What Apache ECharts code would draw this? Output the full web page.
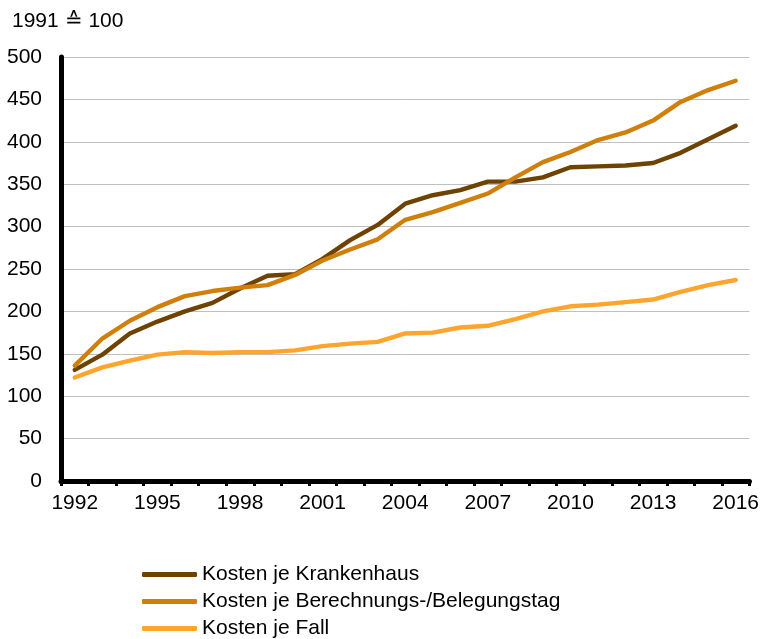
<!DOCTYPE html>
<html>
<head>
<meta charset="utf-8">
<script src="https://cdn.jsdelivr.net/npm/echarts@6/dist/echarts.min.js"></script>
<style>
html,body{margin:0;padding:0;background:#fff;}
#chart{width:762px;height:639px;}
</style>
</head>
<body>
<div id="chart"></div>
<script>
const years = ['1992','1993','1994','1995','1996','1997','1998','1999','2000','2001','2002','2003','2004','2005','2006','2007','2008','2009','2010','2011','2012','2013','2014','2015','2016'];
const kostenKrankenhaus = [131,149,174,188,200,210,227,242,244,262,284,302,327,337,343,353,353,358,370,371,372,375,387,403,419];
const kostenTag = [136,168,189,205,218,224,228,231,243,260,273,285,308,317,328,339,358,376,388,402,411,425,447,461,472];
const kostenFall = [122,134,142,149,152,151,152,152,154,159,162,164,174,175,181,183,191,200,206,208,211,214,223,231,237];
const seriesNames = ['Kosten je Krankenhaus','Kosten je Berechnungs-/Belegungstag','Kosten je Fall'];
const colors = ['#6E4200','#CF7F0A','#FFA42D'];
const yTitle = '1991 \u2259 100';

const chart = echarts.init(document.getElementById('chart'), null, {renderer:'canvas'});
const font = 'Arial, "Liberation Sans", sans-serif';
const mk = (name, data, color) => ({
  name, type:'line', data, symbol:'none', showSymbol:false,
  lineStyle:{color, width:4.4, cap:'round', join:'round'},
  itemStyle:{color},
  animation:false
});
chart.setOption({
  animation:false,
  backgroundColor:'#fff',
  textStyle:{fontFamily:font},
  graphic:[{type:'text', left:12, top:11, style:{text:yTitle, font:'21px ' + font, fill:'#000'}}],
  grid:{left:61, right:11, top:57, bottom:158, containLabel:false},
  xAxis:{
    type:'category', data:years, boundaryGap:true,
    axisLine:{lineStyle:{color:'#000', width:5}},
    axisTick:{show:true, interval:0, length:5, lineStyle:{color:'#000', width:3}},
    axisLabel:{interval:2, color:'#000', fontSize:21, fontFamily:font, margin:12},
    splitLine:{show:false}
  },
  yAxis:{
    type:'value', min:0, max:500, interval:50,
    axisLine:{show:true, lineStyle:{color:'#000', width:5}},
    axisTick:{show:false},
    axisLabel:{color:'#000', fontSize:21, fontFamily:font, margin:19},
    splitLine:{lineStyle:{color:'#c0c0c0', width:1}}
  },
  legend:{
    orient:'vertical', left:142, top:564, height:75, padding:0,
    itemWidth:55, itemHeight:5, itemGap:6, icon:'roundRect',
    textStyle:{color:'#000', fontSize:21, fontFamily:font, lineHeight:21},
    data:seriesNames
  },
  series:[
    mk(seriesNames[0], kostenKrankenhaus, colors[0]),
    mk(seriesNames[1], kostenTag, colors[1]),
    mk(seriesNames[2], kostenFall, colors[2])
  ]
});
</script>
</body>
</html>
